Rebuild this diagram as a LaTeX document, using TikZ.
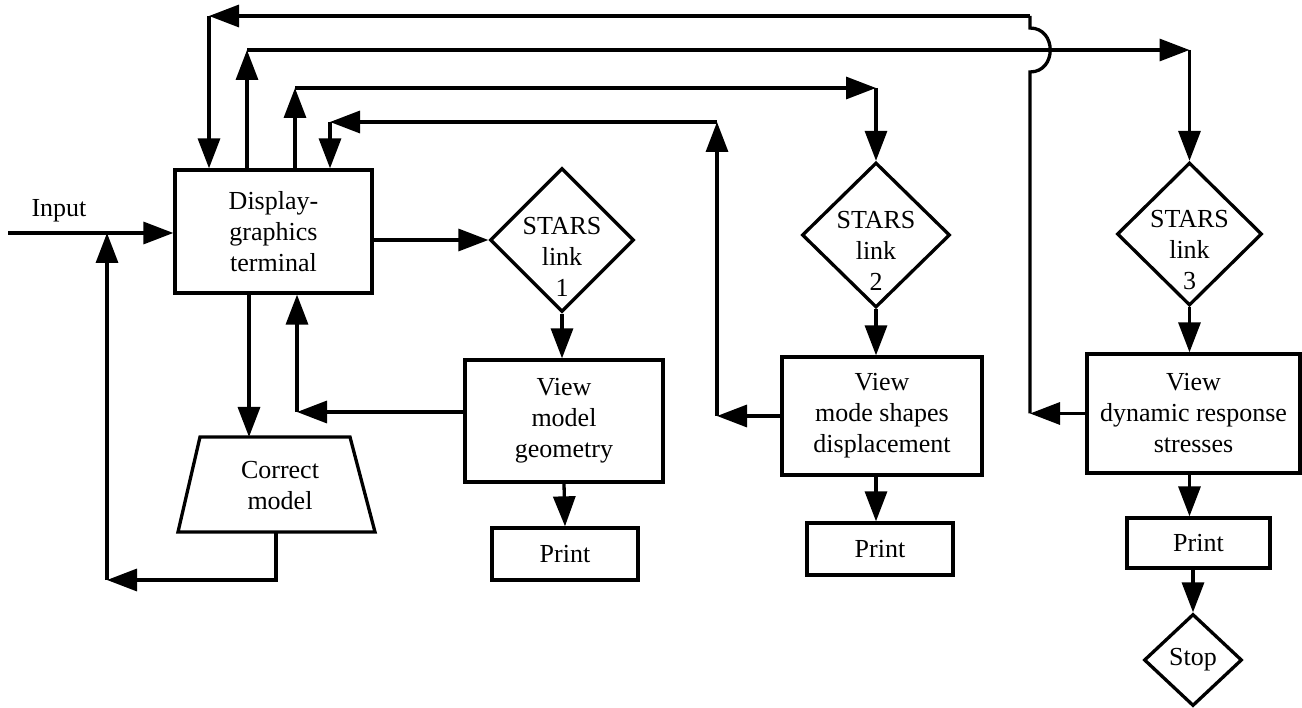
\documentclass[tikz,border=0pt]{standalone}
\usepackage{fontspec}
\setmainfont{Liberation Serif}
\usetikzlibrary{arrows.meta,shapes.geometric}
\begin{document}
\begin{tikzpicture}[x=1pt,y=-1pt,
  line width=3.3pt,
  arr/.style={-{Triangle[length=30pt,width=22pt]}},
  lbl/.style={font=\fontsize{26}{31}\selectfont,align=center,inner sep=0pt},
  box/.style={draw,rectangle,inner sep=0pt,lbl},
  dia/.style={draw,diamond,inner sep=0pt,aspect=1}]
\useasboundingbox (0,0) rectangle (1302,708);

% main nodes
\node[box,minimum width=197pt,minimum height=123pt] (disp) at (273.5,231.5) {Display-\\graphics\\terminal};
\node[lbl] (input) at (59,211) {Input};

\node[dia,minimum width=144pt,minimum height=144pt] (s1) at (562,240) {};
\node[lbl] (s1t) at (562,257) {STARS\\link\\1};
\node[dia,minimum width=148pt,minimum height=145pt] (s2) at (876,235) {};
\node[lbl] (s2t) at (876,251) {STARS\\link\\2};
\node[dia,minimum width=145pt,minimum height=143pt] (s3) at (1189.5,234) {};
\node[lbl] (s3t) at (1189.5,250) {STARS\\link\\3};

\node[box,minimum width=198pt,minimum height=122pt] (v1) at (564,421) {View\\model\\geometry};
\node[box,minimum width=200pt,minimum height=118pt] (v2) at (882,416) {View\\mode shapes\\displacement};
\node[box,minimum width=213pt,minimum height=119pt] (v3) at (1193.5,413.5) {View\\dynamic response\\stresses};

\node[box,minimum width=146pt,minimum height=52pt] (p1) at (565,554) {Print};
\node[box,minimum width=146pt,minimum height=52pt] (p2) at (880,549) {Print};
\node[box,minimum width=143pt,minimum height=50pt] (p3) at (1198.5,543) {Print};

\node[dia,minimum width=98pt,minimum height=92pt] (stop) at (1193,660) {};
\node[lbl] (stopt) at (1193,660) {Stop};

% correct model trapezoid
\draw (200,437) -- (350,437) -- (375,532) -- (178,532) -- cycle;
\node[lbl] (corr) at (280,486) {Correct\\model};
\coordinate (ctop) at (249,437);
\coordinate (cbot) at (276,532);

% input
\coordinate (in) at (8,233);
\draw[arr] (in) -- (in -| disp.west);

% display -> STARS 1
\draw[arr] (s1.west -| disp.east) -- (s1.west);

% path A: view 3 back to display
\coordinate (a1) at (1030,413.5);
\coordinate (a2) at (1030,16);
\coordinate (a3) at (209,16);
\draw[arr] (v3.west |- a1) -- (a1);
\draw (a1) -- (1030,72) .. controls (1057,72) and (1057,28) .. (1030,28) -- (a2);
\draw[arr] (a2) -- (a3);
\draw[arr] (a3) -- (a3 |- disp.north);

% path B: display -> STARS 3
\coordinate (b1) at (247,50);
\coordinate (b2) at (1189.5,50);
\draw[arr] (b1 |- disp.north) -- (b1);
\draw[arr] (b1) -- (b2);
\draw[arr] (b2) -- (s3.north);

% path C: display -> STARS 2
\coordinate (c1) at (295,88);
\coordinate (c2) at (876,88);
\draw[arr] (c1 |- disp.north) -- (c1);
\draw[arr] (c1) -- (c2);
\draw[arr] (c2) -- (s2.north);

% path D: view 2 back to display
\coordinate (d1) at (717,416);
\coordinate (d2) at (717,122);
\coordinate (d3) at (330,122);
\draw[arr] (v2.west |- d1) -- (d1);
\draw[arr] (d1) -- (d2);
\draw[arr] (d2) -- (d3);
\draw[arr] (d3) -- (d3 |- disp.north);

% view 1 back to display
\coordinate (e1) at (297,412);
\draw[arr] (v1.west |- e1) -- (e1);
\draw[arr] (e1) -- (e1 |- disp.south);

% display -> correct model
\draw[arr] (ctop |- disp.south) -- (ctop);

% correct model -> input
\coordinate (f1) at (276,580);
\coordinate (f2) at (107,580);
\draw[arr] (cbot) -- (f1) -- (f2);
\draw[arr] (f2) -- (f2 |- in);

% vertical flows
\draw[arr] (s1.south) -- (s1.south |- v1.north);
\draw[arr] (v1.south) -- (p1.north);
\draw[arr] (s2.south) -- (s2.south |- v2.north);
\draw[arr] (s2.south |- v2.south) -- (s2.south |- p2.north);
\draw[arr] (s3.south) -- (s3.south |- v3.north);
\draw[arr] (s3.south |- v3.south) -- (s3.south |- p3.north);
\draw[arr] (stop.north |- p3.south) -- (stop.north);
\end{tikzpicture}
\end{document}
